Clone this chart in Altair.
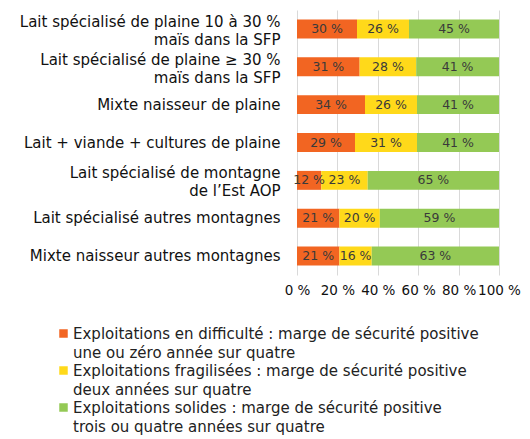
import altair as alt
import pandas as pd

categories = [
    "Lait spécialisé de plaine 10 à 30 %\nmaïs dans la SFP",
    "Lait spécialisé de plaine ≥ 30 %\nmaïs dans la SFP",
    "Mixte naisseur de plaine",
    "Lait + viande + cultures de plaine",
    "Lait spécialisé de montagne\nde l’Est AOP",
    "Lait spécialisé autres montagnes",
    "Mixte naisseur autres montagnes",
]
difficulte = [30, 31, 34, 29, 12, 21, 21]
fragilisees = [26, 28, 26, 31, 23, 20, 16]
solides = [45, 41, 41, 41, 65, 59, 63]

series = [
    "Exploitations en difficulté : marge de sécurité positive\nune ou zéro année sur quatre",
    "Exploitations fragilisées : marge de sécurité positive\ndeux années sur quatre",
    "Exploitations solides : marge de sécurité positive\ntrois ou quatre années sur quatre",
]
colors = ["#F26522", "#FFD91A", "#94C955"]
tick_values = [0, 0.2, 0.4, 0.6, 0.8, 1]

rows = []
for i, c in enumerate(categories):
    for j, vals in enumerate([difficulte, fragilisees, solides]):
        rows.append({"categorie": c, "serie": series[j], "ordre": j, "valeur": vals[i]})
df = pd.DataFrame(rows)

x_axis = alt.Axis(
    values=tick_values,
    labelExpr="round(datum.value * 100) + ' %'",
    title=None,
    grid=True,
    gridColor="#d9d9d9",
    domain=False,
    ticks=False,
    labelFontSize=13.5,
    labelColor="#111111",
    labelPadding=8,
    labelFlush=False,
    labelOverlap=False,
)
y_enc = alt.Y(
    "categorie:N",
    sort=categories,
    scale=alt.Scale(paddingInner=0.5, paddingOuter=0.25),
    axis=alt.Axis(
        title=None,
        labelExpr="split(datum.label, '\\n')",
        labelFontSize=15,
        labelLineHeight=18,
        labelColor="#111111",
        labelPadding=17,
        labelLimit=400,
        labelOffset={"condition": {"test": "indexof(datum.value, '\\n') >= 0", "value": -7}, "value": 0},
        ticks=False,
        domain=False,
    ),
)

base = alt.Chart(df).transform_stack(
    stack="valeur",
    groupby=["categorie"],
    as_=["v0", "v1"],
    offset="normalize",
    sort=[alt.SortField("ordre", order="ascending")],
)

bars = base.mark_bar().encode(
    x=alt.X("v0:Q", scale=alt.Scale(domain=[0, 1]), axis=x_axis),
    x2="v1:Q",
    y=y_enc,
    color=alt.Color(
        "serie:N",
        scale=alt.Scale(domain=series, range=colors),
        sort=series,
        legend=alt.Legend(
            title=None,
            orient="none",
            legendX=-241,
            legendY=316,
            direction="vertical",
            labelExpr="split(datum.label, '\\n')",
            labelFontSize=15,
            labelColor="#222222",
            labelLimit=600,
            symbolType="square",
            symbolSize=72,
            symbolStrokeWidth=0,
            labelOffset=2,
            rowPadding=2,
            padding=0,
        ),
    ),
)

labels = base.transform_calculate(
    mid="(datum.v0 + datum.v1) / 2",
    lab="datum.valeur + ' %'",
).mark_text(fontSize=12.5, color="#3a3a3a").encode(
    x=alt.X("mid:Q", scale=alt.Scale(domain=[0, 1]), axis=x_axis),
    y=y_enc,
    text="lab:N",
)

chart = (
    alt.layer(bars, labels)
    .properties(
        width=202,
        height=265,
        autosize="none",
        padding={"left": 289, "top": 2, "right": 22, "bottom": 166},
    )
    .configure(font="DejaVu Sans", style={"guide-label": {"lineHeight": 19.5}})
    .configure_view(stroke=None)
)

chart.save("out.html", embed_options={"renderer": "svg", "actions": False})
